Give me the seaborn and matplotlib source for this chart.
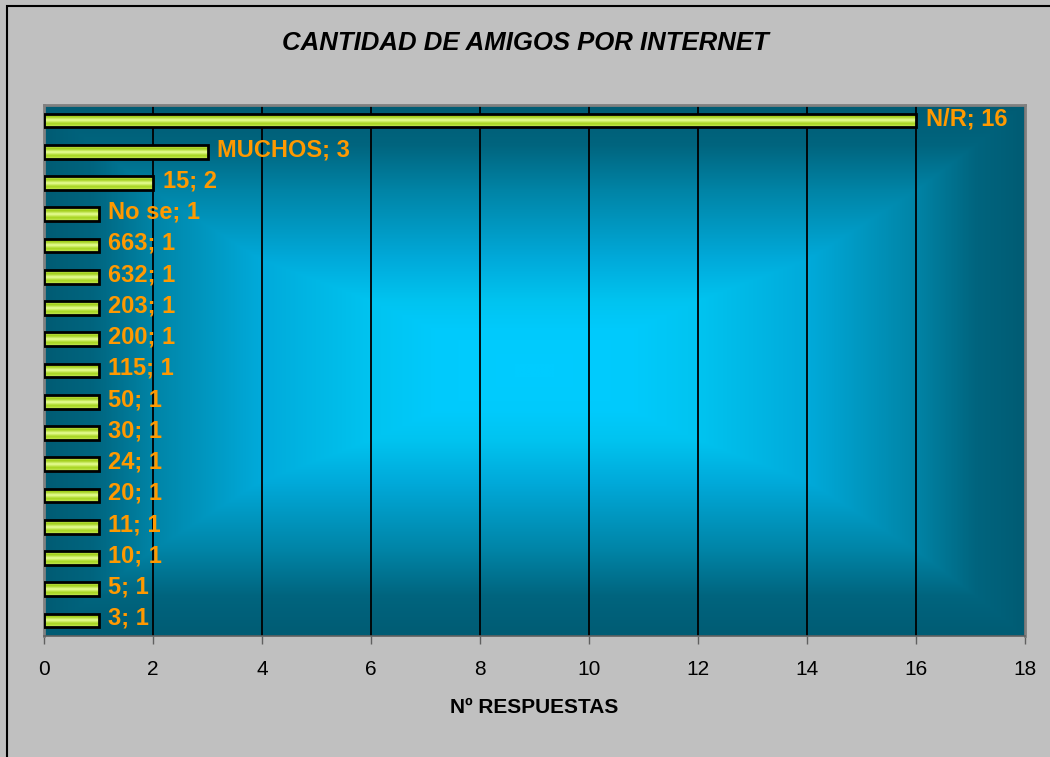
import numpy as np
import pandas as pd
import matplotlib
matplotlib.use("Agg")
import matplotlib.pyplot as plt
import seaborn as sns
from matplotlib.patches import Rectangle
from matplotlib.colors import LinearSegmentedColormap

categories = ["N/R", "MUCHOS", "15", "No se", "663", "632", "203", "200",
              "115", "50", "30", "24", "20", "11", "10", "5", "3"]
values = [16, 3, 2, 1, 1, 1, 1, 1, 1, 1, 1, 1, 1, 1, 1, 1, 1]
x_ticks = [0, 2, 4, 6, 8, 10, 12, 14, 16, 18]
title = "CANTIDAD DE AMIGOS POR INTERNET"
x_label = "Nº RESPUESTAS"

df = pd.DataFrame({"cat": categories, "val": values})

sns.set_style("white")
plt.rcParams["font.family"] = ["Liberation Sans", "DejaVu Sans"]
plt.rcParams["text.color"] = "black"
plt.rcParams["axes.labelcolor"] = "black"
plt.rcParams["xtick.color"] = "black"

W, H = 1050, 757
fig = plt.figure(figsize=(W / 100, H / 100), dpi=100, facecolor="#C0C0C0")
ax = fig.add_axes([44 / W, 1 - 636 / H, (1025 - 44) / W, (636 - 105) / H])

sns.barplot(data=df, x="val", y="cat", order=categories, orient="h",
            width=0.44, ax=ax, edgecolor="black", linewidth=2)

n = len(categories)
ax.set_xlim(x_ticks[0], x_ticks[-1])
ax.set_ylim(n - 0.5, -0.5)

# background rectangular "from centre" gradient
ny, nx = 500, 900
yy, xx = np.mgrid[-1:1:ny * 1j, -1:1:nx * 1j]
dx = np.interp(np.abs(xx), [0, 0.2, 0.33, 0.56, 0.78, 0.9, 1.0],
               [0, 0.02, 0.1, 0.35, 0.7, 0.95, 1.0])
dy = np.interp(np.abs(yy), [0, 0.15, 0.26, 0.42, 0.68, 0.85, 1.0],
               [0, 0.02, 0.1, 0.35, 0.7, 0.95, 1.0])
d = np.maximum(dx, dy)
bg_cmap = LinearSegmentedColormap.from_list(
    "bg", [(0.0, "#00CCFF"), (0.1, "#00C4F0"), (0.35, "#00AADA"),
           (0.7, "#0084A6"), (0.95, "#00657F"), (1.0, "#005C74")])
ax.imshow(d, cmap=bg_cmap, extent=[x_ticks[0], x_ticks[-1], n - 0.5, -0.5],
          aspect="auto", zorder=0, interpolation="bilinear", vmin=0, vmax=1)

# bar gradient fills
bar_cmap = LinearSegmentedColormap.from_list(
    "bar", ["#D8F27A", "#9CCB12", "#EAFF9A", "#A6D41E", "#C6EA5A"])
grad = np.linspace(0, 1, 64).reshape(-1, 1)
for p in ax.patches:
    x0, y0 = p.get_x(), p.get_y()
    w, h = p.get_width(), p.get_height()
    im = ax.imshow(grad, cmap=bar_cmap, extent=[x0, x0 + w, y0 + h, y0],
                   aspect="auto", zorder=2.5, interpolation="bilinear")
    im.set_clip_path(p)
    p.set_facecolor("none")
    p.set_zorder(3)

# labels
for i, (c, v) in enumerate(zip(categories, values)):
    ax.annotate(f"{c}; {v}", xy=(v, i), xytext=(7, 1.5), textcoords="offset points",
                ha="left", va="center", color="#FF9900", fontsize=17,
                fontweight="bold", zorder=4)

ax.set_axisbelow(True)
ax.set_xticks(x_ticks)
ax.grid(axis="x", color="black", linewidth=1.3)
ax.grid(axis="y", visible=False)
ax.set_yticks([])
ax.set_ylabel("")
ax.set_xlabel(x_label, fontsize=15, fontweight="bold", labelpad=14, color="black")
ax.tick_params(axis="x", direction="out", length=6, width=1, color="#606060",
               labelsize=15, labelcolor="black", pad=11, bottom=True)
for s in ax.spines.values():
    s.set_visible(True)
    s.set_color("#808080")
    s.set_linewidth(2)
ax.spines["bottom"].set_color("#606060")
ax.spines["bottom"].set_linewidth(1.2)

fig.text(0.5, 1 - 43 / H, title, ha="center", va="center", fontsize=18.5,
         fontweight="bold", fontstyle="italic", color="black")

fig.patches.append(Rectangle((7 / W, -0.1), 2, (H - 6) / H + 0.1,
                             transform=fig.transFigure, fill=False,
                             edgecolor="black", linewidth=1.5))

fig.savefig("out.png", dpi=100, facecolor=fig.get_facecolor())
